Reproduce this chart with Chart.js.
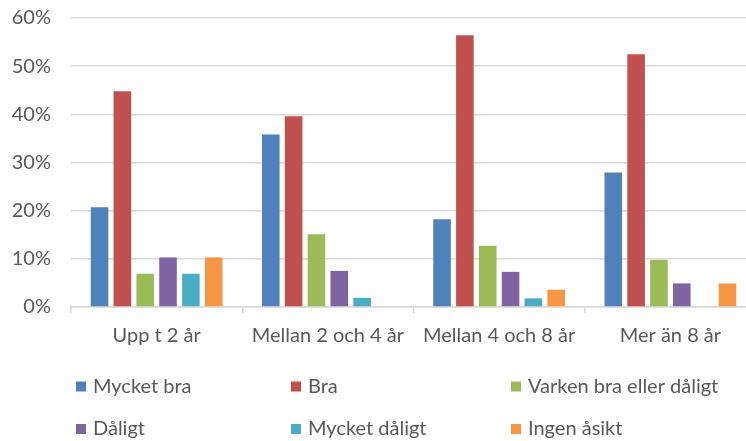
<!DOCTYPE html>
<html>
<head>
<meta charset="utf-8">
<script src="https://cdn.jsdelivr.net/npm/chart.js@4/dist/chart.umd.min.js"></script>
<style>
  html, body { margin: 0; padding: 0; background: #fff; overflow: hidden; }
  #wrap { position: relative; width: 757px; height: 441px; }
</style>
</head>
<body>
<div id="wrap"><canvas id="c"></canvas></div>
<script>
const categories = ["Upp t 2 år", "Mellan 2 och 4 år", "Mellan 4 och 8 år", "Mer än 8 år"];
const seriesNames = ["Mycket bra", "Bra", "Varken bra eller dåligt", "Dåligt", "Mycket dåligt", "Ingen åsikt"];
const mycketBra    = [20.7, 35.8, 18.2, 27.9];
const bra          = [44.8, 39.6, 56.4, 52.5];
const varken       = [6.9, 15.1, 12.7, 9.8];
const daligt       = [10.3, 7.5, 7.3, 4.9];
const mycketDaligt = [6.9, 1.9, 1.8, 0];
const ingenAsikt   = [10.3, 0, 3.6, 4.9];
const yTicks = [0, 10, 20, 30, 40, 50, 60];
const colors = ["#4F81BD", "#C0504D", "#9BBB59", "#8064A2", "#4BACC6", "#F79646"];

const seriesValues = [mycketBra, bra, varken, daligt, mycketDaligt, ingenAsikt];
const FONT = "Lato";
const FSIZE = 20;
const TEXT = "#595959";
const GRID = "#D9D9D9";

const legendPlugin = {
  id: "gridLegend",
  afterDraw(chart) {
    const ctx = chart.ctx;
    const area = chart.chartArea;
    const colX = [area.left + 5, area.left + 220, area.left + 440];
    const rowY = [area.bottom + 79.5, area.bottom + 122];
    ctx.save();
    ctx.font = FSIZE + "px " + FONT;
    ctx.textBaseline = "middle";
    ctx.textAlign = "left";
    chart.data.datasets.forEach((ds, i) => {
      const x = colX[i % 3];
      const y = rowY[Math.floor(i / 3)];
      ctx.fillStyle = ds.backgroundColor;
      ctx.fillRect(x, y - 5, 10, 10);
      ctx.fillStyle = TEXT;
      ctx.fillText(ds.label, x + 17, y);
    });
    ctx.restore();
  }
};

new Chart(document.getElementById("c"), {
  type: "bar",
  data: {
    labels: categories,
    datasets: seriesNames.map((name, i) => ({
      label: name,
      data: seriesValues[i],
      backgroundColor: colors[i],
      borderWidth: 0,
      categoryPercentage: 0.8,
      barPercentage: 0.77
    }))
  },
  options: {
    responsive: true,
    maintainAspectRatio: false,
    animation: false,
    layout: { padding: { top: 18, left: 0, right: 1, bottom: 84 } },
    plugins: {
      legend: { display: false },
      tooltip: { enabled: false }
    },
    scales: {
      x: {
        offset: true,
        grid: {
          display: true,
          offset: true,
          drawOnChartArea: false,
          drawTicks: true,
          tickLength: 6,
          color: GRID,
          lineWidth: 1.5
        },
        border: { display: true, color: GRID, width: 1.5 },
        ticks: {
          color: TEXT,
          font: { family: FONT, size: FSIZE },
          padding: 11,
          maxRotation: 0,
          autoSkip: false
        },
        afterFit(scale) { scale.height = 50; scale.paddingLeft = 0; scale.paddingRight = 0; }
      },
      y: {
        min: 0,
        max: 60,
        afterBuildTicks(scale) { scale.ticks = yTicks.map(v => ({ value: v })); },
        grid: { color: GRID, lineWidth: 1.5, drawTicks: false },
        border: { display: false },
        ticks: {
          color: TEXT,
          font: { family: FONT, size: FSIZE },
          padding: 20,
          callback: v => v + "%"
        },
        afterFit(scale) { scale.width = 71; scale.paddingTop = 0; scale.paddingBottom = 0; }
      }
    }
  },
  plugins: [legendPlugin]
});
</script>
</body>
</html>
